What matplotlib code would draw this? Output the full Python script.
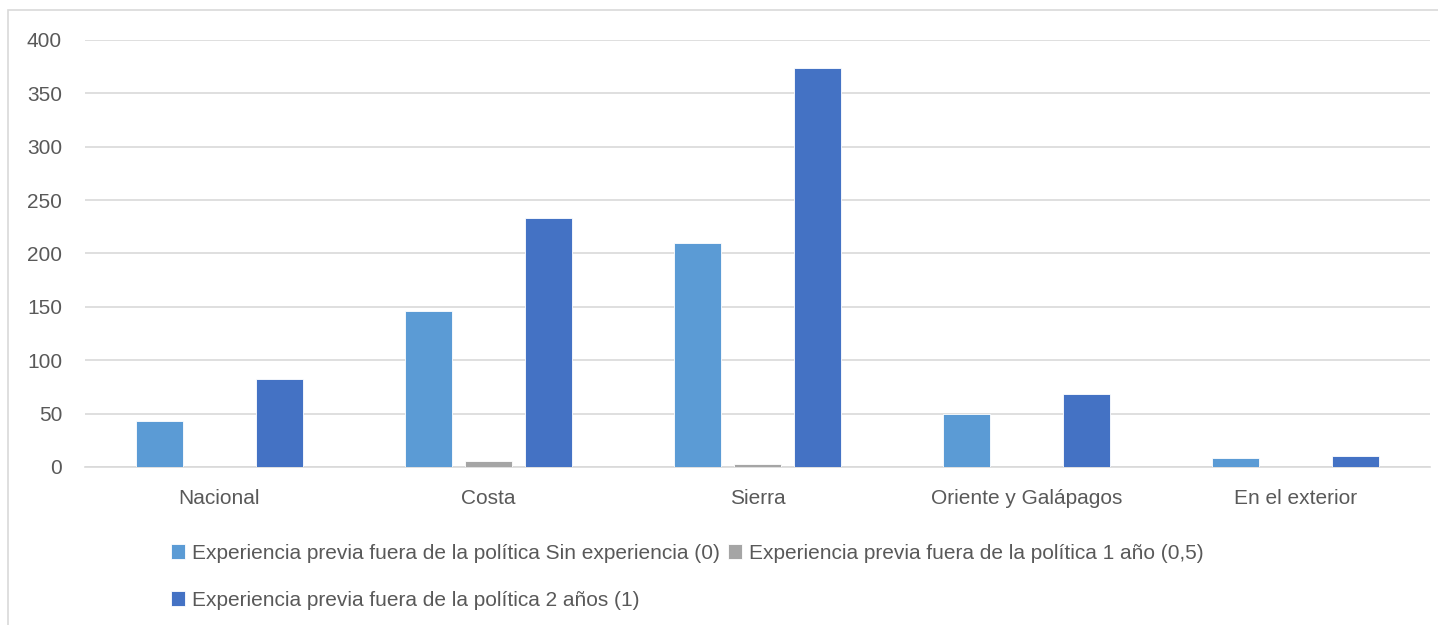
import numpy as np
import matplotlib.pyplot as plt
from matplotlib.patches import Rectangle

# Datos
categorias = ["Nacional", "Costa", "Sierra", "Oriente y Galápagos", "En el exterior"]
sin_experiencia = [43, 146, 210, 50, 8]
un_anio = [0, 6, 3, 0, 0]
dos_anios = [82, 233, 374, 68, 10]
series_nombres = [
    "Experiencia previa fuera de la política Sin experiencia (0)",
    "Experiencia previa fuera de la política 1 año (0,5)",
    "Experiencia previa fuera de la política 2 años (1)",
]
colores = ["#5B9BD5", "#A5A5A5", "#4472C4"]

plt.rcParams['font.family'] = ['Liberation Sans', 'DejaVu Sans']

W, H = 1438, 625
fig = plt.figure(figsize=(W / 100, H / 100), dpi=100)
ax = fig.add_axes([85 / W, 1 - 467 / H, (1430 - 85) / W, (467 - 40) / H])

x = np.arange(len(categorias))
ancho = 0.175
paso = 0.222
barras = []
for i, (vals, col) in enumerate(zip([sin_experiencia, un_anio, dos_anios], colores)):
    b = ax.bar(x + (i - 1) * paso, vals, width=ancho, color=col,
               edgecolor="white", linewidth=0.6, label=series_nombres[i], zorder=3)
    barras.append(b)

ax.set_xlim(-0.5, len(categorias) - 0.5)
ax.set_ylim(0, 400)
ax.set_yticks(range(0, 401, 50))
ax.set_xticks(x)
ax.set_xticklabels(categorias)
ax.grid(axis="y", color="#D9D9D9", linewidth=1.2, zorder=0)
for s in ["top", "right", "left"]:
    ax.spines[s].set_visible(False)
ax.spines["bottom"].set_color("#D9D9D9")
ax.spines["bottom"].set_linewidth(1.2)
ax.tick_params(axis="both", length=0, colors="#595959", labelsize=15)
ax.tick_params(axis="y", pad=16.5)
ax.tick_params(axis="x", pad=15.5)

# Leyenda (orden para que quede en dos filas como el original)
handles = [barras[0], barras[2], barras[1]]
labels = [series_nombres[0], series_nombres[2], series_nombres[1]]
fig.legend(handles, labels, ncol=2, loc="upper left",
           bbox_to_anchor=(152 / W, 1 - 525 / H), frameon=False,
           fontsize=15, labelcolor="#595959", handlelength=0.7, handleheight=0.7,
           handletextpad=0.3, columnspacing=0.4, labelspacing=1.35)

# Marco del gráfico
fig.patches.append(Rectangle((8 / W, -0.1), 1.2, 1 - 10 / H + 0.1,
                             transform=fig.transFigure, fill=False,
                             edgecolor="#D9D9D9", linewidth=1.2))

fig.savefig("out.png", dpi=100)
